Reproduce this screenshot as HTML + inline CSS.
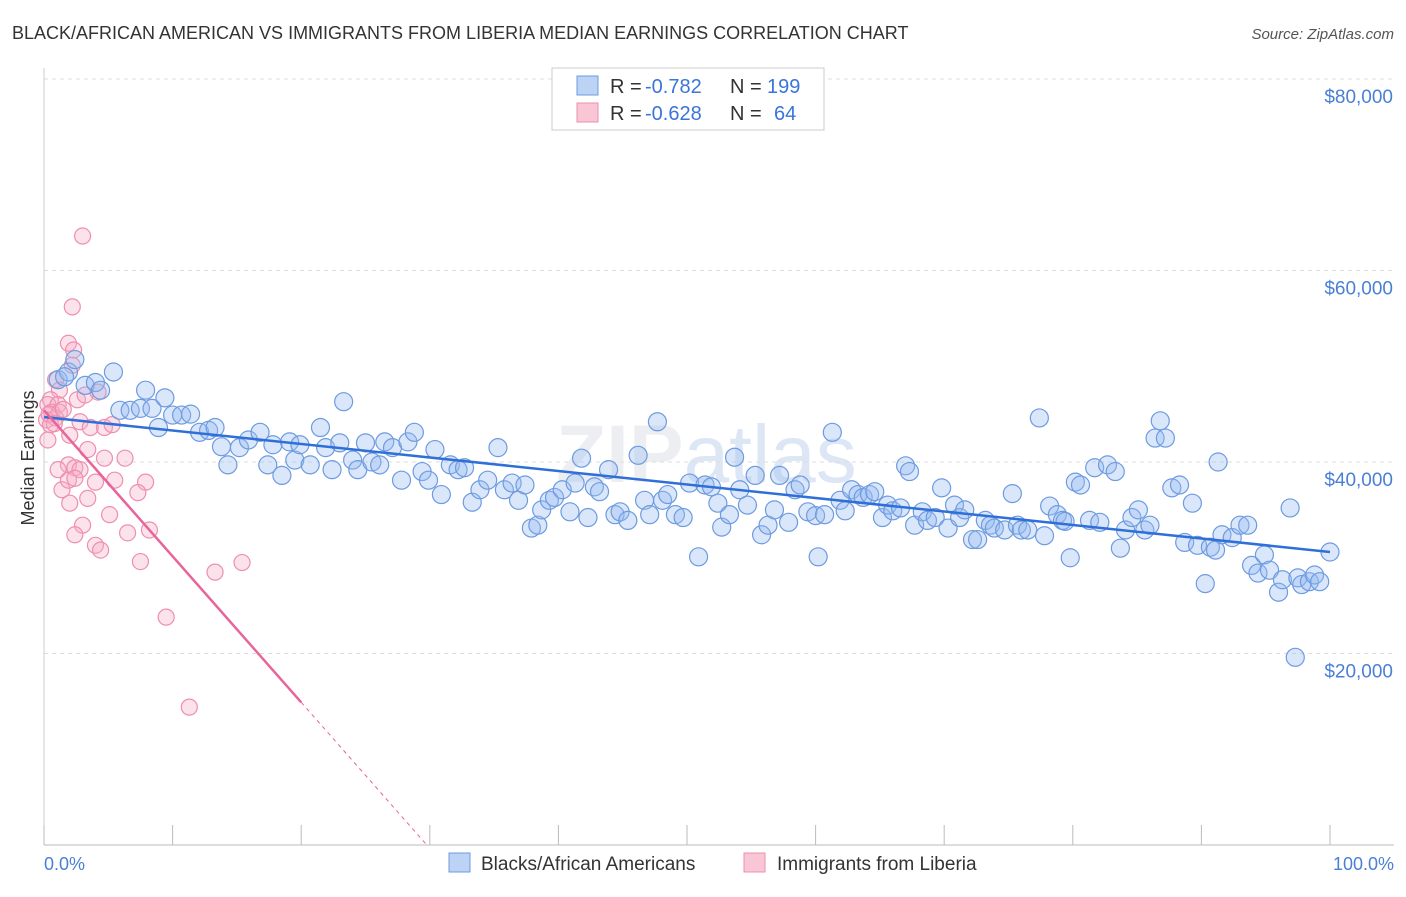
<!DOCTYPE html>
<html><head><meta charset="utf-8">
<style>
body{margin:0;background:#fff;font-family:"Liberation Sans",sans-serif;}
svg text{font-family:"Liberation Sans",sans-serif;}
</style></head>
<body>
<svg id="chart" width="1406" height="892">
<text x="12" y="39" font-size="18" fill="#333">BLACK/AFRICAN AMERICAN VS IMMIGRANTS FROM LIBERIA MEDIAN EARNINGS CORRELATION CHART</text>
<text x="1394" y="39" font-size="15" fill="#555" font-style="italic" text-anchor="end">Source: ZipAtlas.com</text>
<text x="556" y="482" font-size="82" fill="#eceef2" font-weight="bold">ZIP<tspan fill="#dde6f5" font-weight="normal">atlas</tspan></text>
<g id="grid"></g>
<g id="axes"></g>
<g id="pink"></g>
<g id="blue"></g>
<g id="lines"></g>
<text transform="translate(34,458) rotate(-90)" font-size="18" fill="#333" text-anchor="middle">Median Earnings</text>
<text x="44" y="870" font-size="18" fill="#4a7fd6">0.0%</text>
<text x="1394" y="870" font-size="18" fill="#4a7fd6" text-anchor="end">100.0%</text>
<g>
<rect x="552" y="68" width="272" height="62" fill="#fff" stroke="#ccc"/>
<rect x="577" y="76" width="21" height="19" fill="#bcd3f5" stroke="#6d9be0"/>
<rect x="577" y="103" width="21" height="19" fill="#f9c6d6" stroke="#ee8fb0"/>
<text x="610" y="93" font-size="20" fill="#333">R =</text>
<text x="645" y="93" font-size="20" fill="#3a75d8">-0.782</text>
<text x="730" y="93" font-size="20" fill="#333">N =</text>
<text x="767" y="93" font-size="20" fill="#3a75d8">199</text>
<text x="610" y="120" font-size="20" fill="#333">R =</text>
<text x="645" y="120" font-size="20" fill="#3a75d8">-0.628</text>
<text x="730" y="120" font-size="20" fill="#333">N =</text>
<text x="774" y="120" font-size="20" fill="#3a75d8">64</text>
</g>
<g>
<rect x="449" y="853" width="21" height="19" fill="#bcd3f5" stroke="#6d9be0"/>
<text x="481" y="870" font-size="19" fill="#333">Blacks/African Americans</text>
<rect x="744" y="853" width="21" height="19" fill="#f9c6d6" stroke="#ee8fb0"/>
<text x="777" y="870" font-size="19" fill="#333">Immigrants from Liberia</text>
</g>
</svg>
<script>
const yTicks=[20000,40000,60000,80000];
const yTickLabels=["$20,000","$40,000","$60,000","$80,000"];
const xTicks=[0,10,20,30,40,50,60,70,80,90,100];
const blueX=[1.1,1.9,2.4,3.2,4.0,4.4,5.4,1.6,5.9,6.7,7.5,8.4,7.9,8.9,9.4,10.0,10.7,11.4,12.1,12.8,13.3,13.8,14.3,15.2,15.9,16.8,17.4,17.8,18.5,19.1,19.5,19.9,20.7,21.5,21.9,22.4,23.0,23.3,24.0,24.4,25.0,25.5,26.1,26.5,27.1,27.8,28.3,28.8,29.4,29.9,30.4,30.9,31.6,32.2,32.7,33.3,33.9,34.5,35.3,35.8,36.4,36.9,37.4,37.9,38.4,38.7,39.3,39.7,40.3,40.9,41.3,41.8,42.3,42.8,43.2,43.9,44.4,44.8,45.4,46.2,46.7,47.1,47.7,48.1,48.5,49.1,49.7,50.2,50.9,51.4,51.9,52.4,52.7,53.3,53.7,54.1,54.7,55.3,55.8,56.3,56.8,57.2,57.9,58.4,58.8,59.4,60.0,60.2,60.7,61.3,61.9,62.3,62.8,63.3,63.7,64.2,64.6,65.2,65.6,66.0,66.6,67.0,67.3,67.7,68.3,68.7,69.3,69.8,70.3,70.8,71.2,71.6,72.2,72.6,73.2,73.6,73.9,74.7,75.3,75.7,76.0,76.5,77.4,77.8,78.2,78.8,79.2,79.4,79.8,80.2,80.6,81.3,81.7,82.1,82.7,83.3,83.7,84.1,84.6,85.1,85.6,86.0,86.4,86.8,87.2,87.7,88.3,88.7,89.3,89.7,90.3,90.7,91.1,91.3,91.6,92.4,93.0,93.6,93.9,94.4,94.9,95.3,96.0,96.3,96.9,97.5,97.8,98.4,98.8,99.2,100,97.3];
const blueY=[48.6,49.4,50.7,48.0,48.3,47.5,49.4,48.9,45.4,45.4,45.6,45.6,47.5,43.6,46.7,44.9,44.9,45.0,43.1,43.3,43.6,41.6,39.7,41.5,42.3,43.1,39.7,41.8,38.6,42.1,40.2,41.8,39.7,43.6,41.5,39.2,42.0,46.3,40.2,39.2,42.0,40.0,39.7,42.1,41.5,38.1,42.1,43.1,39.0,38.1,41.3,36.6,39.7,39.2,39.4,35.8,37.1,38.1,41.5,37.1,37.8,36.0,37.6,33.1,33.4,35.0,36.0,36.3,37.1,34.8,37.8,40.4,34.2,37.4,36.9,39.2,34.5,34.8,33.9,40.7,36.0,34.5,44.2,36.0,36.6,34.5,34.2,37.8,30.1,37.6,37.4,35.7,33.2,34.5,40.5,37.1,35.5,38.6,32.4,33.4,35.0,38.6,33.7,37.1,37.6,34.8,34.4,30.1,34.5,43.1,36.0,34.9,37.1,36.6,36.3,36.6,36.9,34.2,35.5,34.9,35.2,39.6,39.0,33.4,34.8,33.9,34.2,37.3,33.1,35.5,34.2,35.0,31.9,31.9,33.9,33.4,33.1,32.9,36.7,33.4,32.9,32.9,44.6,32.3,35.4,34.5,33.9,33.8,30.0,37.9,37.6,33.9,39.4,33.7,39.7,39.0,31.0,32.9,34.2,35.0,32.9,33.4,42.5,44.3,42.5,37.3,37.6,31.6,35.7,31.3,27.3,31.1,30.8,40.0,32.4,32.1,33.4,33.4,29.2,28.4,30.3,28.7,26.4,27.7,35.2,27.9,27.2,27.5,28.2,27.5,30.6,19.6];
const pinkX=[3.0,2.2,1.9,2.3,2.2,0.9,1.2,0.5,0.3,1.1,0.6,1.2,0.2,0.5,0.9,0.3,2.0,2.8,2.6,3.2,4.2,3.6,4.7,5.3,1.9,2.4,2.8,3.4,4.7,6.3,1.1,1.4,1.9,2.4,4.0,5.5,7.9,2.0,3.4,7.3,5.1,3.0,2.4,8.2,6.5,4.0,4.4,7.5,13.3,15.4,9.5,11.3,0.4,0.8,1.5];
const pinkY=[63.6,56.2,52.4,51.7,50.1,48.6,47.5,46.5,46.0,46.0,45.2,45.2,44.4,43.9,44.6,42.3,42.8,44.2,46.5,47.0,47.3,43.6,43.6,43.9,39.7,39.4,39.2,41.3,40.4,40.4,39.2,37.1,38.1,38.3,37.9,38.1,37.9,35.7,36.2,36.8,34.5,33.4,32.4,32.9,32.6,31.3,30.8,29.6,28.5,29.5,23.8,14.4,45.0,44.0,45.5];
const blueTrend=[44.7,30.6];
const pinkTrend=[45.4,-1.525];
const pinkSolidEnd=20;
const X=p=>44+p*12.86;
const Y=v=>845-v*0.009575;
const NS="http://www.w3.org/2000/svg";
function mk(t,a,parent){const e=document.createElementNS(NS,t);for(const k in a)e.setAttribute(k,a[k]);parent.appendChild(e);return e;}
const grid=document.getElementById('grid'),axes=document.getElementById('axes');
yTicks.forEach((t,i)=>{
 const l=mk('line',{x1:44,x2:1394,y1:Y(t),y2:Y(t),stroke:'#ddd','stroke-dasharray':'4,4'},grid);
 
 
 const tx=mk('text',{x:1393,y:Y(t)+24,'font-size':19,fill:'#4a7fd6','text-anchor':'end'},axes);
 tx.textContent=yTickLabels[i];
 
 
});
const ax=mk('line',{x1:44,x2:1394,y1:845,y2:845,stroke:'#bbb'},axes);


const ay=mk('line',{x1:44,x2:44,y1:68,y2:845,stroke:'#ccc'},axes);


xTicks.forEach(t=>{
 const l=mk('line',{x1:X(t),x2:X(t),y1:825,y2:845,stroke:'#bbb'},axes);
 
 
});
const pg=document.getElementById('pink');
pinkX.forEach((x,i)=>{
 const c=mk('circle',{cx:X(x),cy:Y(pinkY[i]*1000),r:8,fill:'rgba(246,172,198,0.35)',stroke:'#ee8fb0','stroke-width':1.2},pg);
 
 
});
const bg=document.getElementById('blue');
blueX.forEach((x,i)=>{
 const c=mk('circle',{cx:X(x),cy:Y(blueY[i]*1000),r:9,fill:'rgba(150,185,240,0.35)',stroke:'#6d9be0','stroke-width':1.2},bg);
 
 
});
const lg=document.getElementById('lines');
const bl=mk('line',{x1:X(0),y1:Y(blueTrend[0]*1000),x2:X(100),y2:Y(blueTrend[1]*1000),stroke:'#2f6fd8','stroke-width':2.5},lg);


const pY=p=>(pinkTrend[0]+pinkTrend[1]*p)*1000;
const zeroX=-pinkTrend[0]/pinkTrend[1];
const pl=mk('line',{x1:X(0),y1:Y(pY(0)),x2:X(pinkSolidEnd),y2:Y(pY(pinkSolidEnd)),stroke:'#e8649a','stroke-width':2.5},lg);


const pd=mk('line',{x1:X(pinkSolidEnd),y1:Y(pY(pinkSolidEnd)),x2:X(zeroX),y2:Y(0),stroke:'#e8649a','stroke-width':1,'stroke-dasharray':'4,4'},lg);


</script>
</body></html>
